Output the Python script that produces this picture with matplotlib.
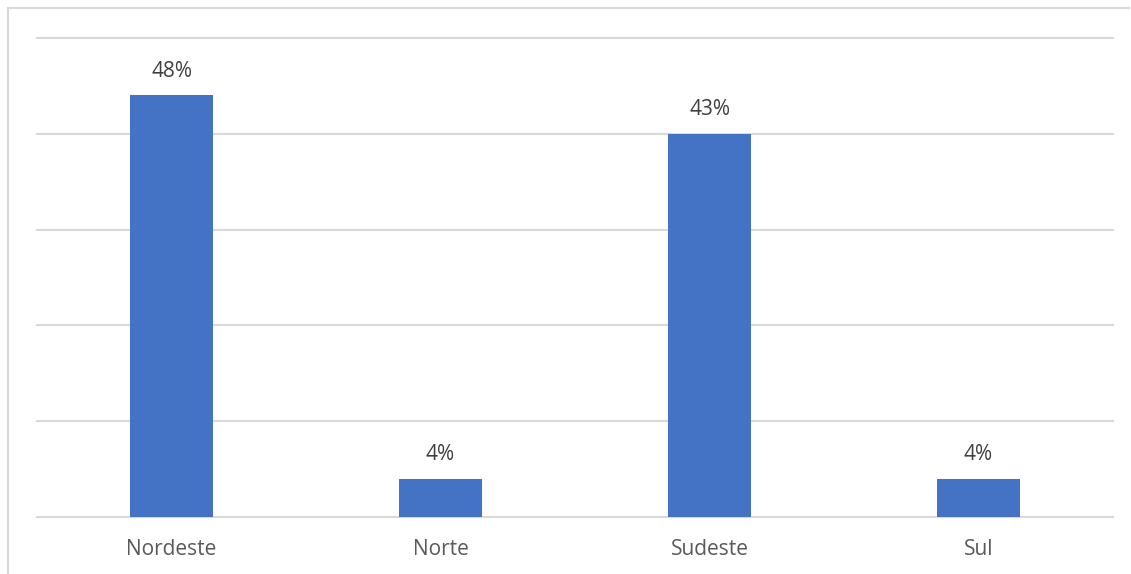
import matplotlib.pyplot as plt
from matplotlib.lines import Line2D

regioes = ['Nordeste', 'Norte', 'Sudeste', 'Sul']
contagem = [11, 1, 10, 1]
total = sum(contagem)
rotulos = ['{:.0f}%'.format(100.0 * v / total) for v in contagem]

plt.rcParams['font.family'] = ['Open Sans', 'DejaVu Sans']

fig = plt.figure(figsize=(11.31, 5.74), dpi=100)
W, H = 1131.0, 574.0
ax = fig.add_axes([37 / W, (H - 517) / H, (1113 - 37) / W, (517 - 38) / H])

x = range(len(regioes))
ax.bar(x, contagem, width=0.312, color='#4472C4', zorder=3)

for i, v in enumerate(contagem):
    ax.annotate(rotulos[i], (i, v), xytext=(0, 10), textcoords='offset points',
                ha='center', va='bottom', fontsize=15, color='#404040')

ax.set_xlim(-0.5, len(regioes) - 0.5)
ax.set_ylim(0, 12.5)
ax.set_yticks([0, 2.5, 5, 7.5, 10, 12.5])
ax.set_yticklabels([])
ax.tick_params(axis='y', length=0)
ax.set_xticks(list(x))
ax.set_xticklabels(regioes, fontsize=15, color='#595959')
ax.tick_params(axis='x', length=0, pad=16)
ax.grid(axis='y', color='#d9d9d9', linewidth=1.5, zorder=0)
for gl in ax.get_ygridlines():
    gl.set_clip_on(False)
for s in ax.spines.values():
    s.set_visible(False)

# moldura do grafico
fig.add_artist(Line2D([8 / W, 8 / W], [0, (H - 8) / H], color='#d9d9d9', linewidth=1.5))
fig.add_artist(Line2D([8 / W, 1129 / W], [(H - 8) / H, (H - 8) / H], color='#d9d9d9', linewidth=1.5))

fig.savefig('out.png', dpi=100)
